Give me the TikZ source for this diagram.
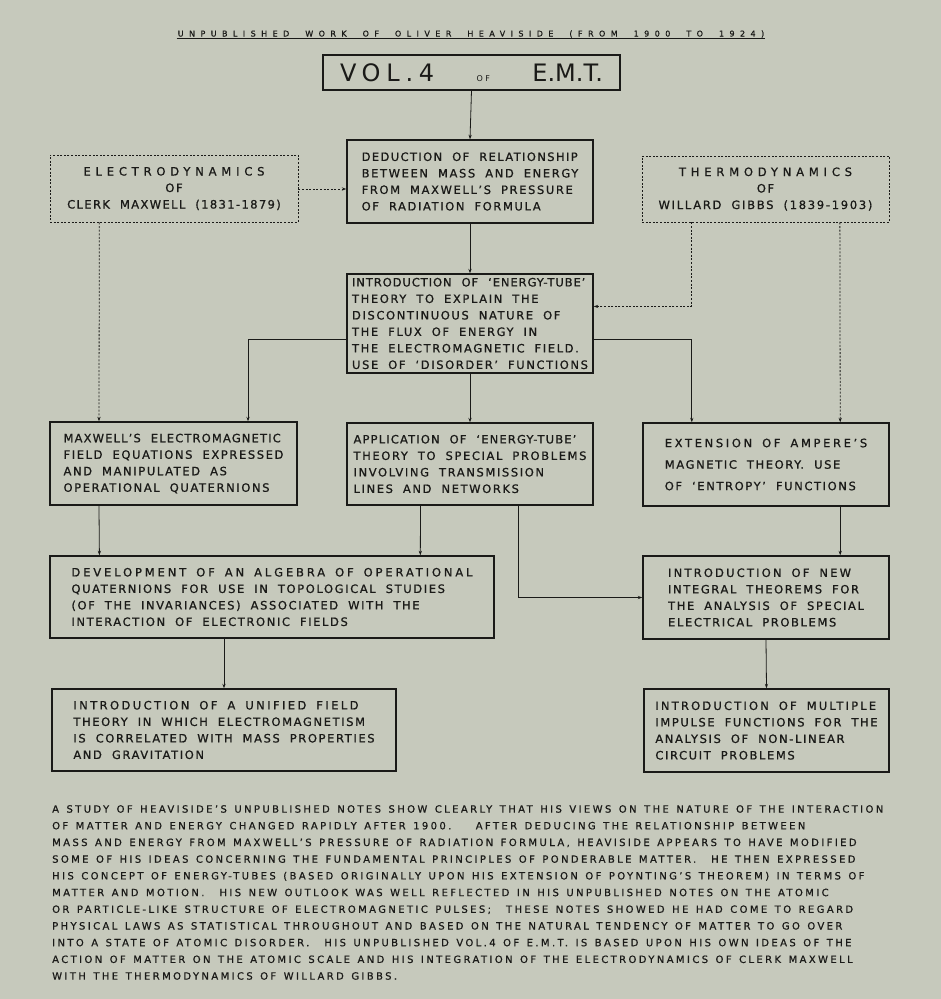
\documentclass[tikz,border=0pt]{standalone}
\usepackage{fontspec}
\usetikzlibrary{arrows.meta,calc}
\setmainfont{DejaVu Sans}
\newfontfamily\boxface[LetterSpace=14,FakeBold=0.9]{DejaVu Sans}
\newfontfamily\noteface[LetterSpace=24,FakeBold=0.7]{DejaVu Sans}
\newfontfamily\titleface[LetterSpace=68,FakeBold=0.8]{DejaVu Sans}
\newfontfamily\volface[LetterSpace=24]{DejaVu Sans}
\newcommand\spacing[1]{\addfontfeatures{LetterSpace=#1}}
\newcommand\wordgap[1]{\spaceskip=#1\relax}
\definecolor{paper}{RGB}{198,201,188}
\definecolor{ink}{RGB}{26,26,24}

\tikzset{
  box/.style={draw=ink, line width=1.4pt, text=ink, align=left, inner sep=0pt,
    font=\boxface\fontsize{11.5}{16.5}\selectfont\wordgap{10pt plus 2pt minus 1pt}},
  srcbox/.style={box, align=center, dash pattern=on 2pt off 1.6pt, line width=0.9pt},
  conn/.style={draw=ink, line width=0.8pt, -{Stealth[length=4.5pt,width=3.2pt]}},
  dashconn/.style={conn, dash pattern=on 2pt off 1.6pt},
}

\begin{document}
\begin{tikzpicture}[x=1pt,y=-1pt]
  \fill[paper] (0,0) rectangle (941,999);
  \useasboundingbox (0,0) rectangle (941,999);

  % title and volume
  \node[text=ink, font=\titleface\fontsize{8}{10}\selectfont\wordgap{16pt}, inner sep=1pt] (title) at (471,34)
    {UNPUBLISHED WORK OF OLIVER HEAVISIDE (FROM 1900 TO 1924)};
  \draw[ink, line width=0.7pt] (title.south west) -- (title.south east);
  \node[draw=ink, line width=1.4pt, text=ink, minimum width=297pt, minimum height=35pt, inner sep=0pt] (vol) at (471.5,72.5)
    {\makebox[263pt]{\fontsize{24}{26}\selectfont{\volface VOL.4}\hfill{\addfontfeatures{LetterSpace=30}\fontsize{8}{8}\selectfont OF}\hfill E.M.T.}};

  % sources
  \node[srcbox, minimum width=248pt, minimum height=67pt] (electro) at (174,188.5)
    {{\spacing{42}ELECTRODYNAMICS}\\OF\\{\spacing{12}CLERK MAXWELL (1831-1879)}};
  \node[srcbox, minimum width=247pt, minimum height=66pt] (thermo) at (765.5,189)
    {{\spacing{42}THERMODYNAMICS}\\OF\\{\spacing{15}WILLARD GIBBS (1839-1903)}};

  % main column
  \node[box, minimum width=246pt, minimum height=83pt] (deduct) at (470,181.5)
    {\spacing{12}DEDUCTION OF RELATIONSHIP\\BETWEEN MASS AND ENERGY\\FROM MAXWELL’S PRESSURE\\OF RADIATION FORMULA};
  \node[box, minimum width=246pt, minimum height=99pt] (tube) at (470,323.5)
    {\spacing{8}INTRODUCTION OF ‘ENERGY-TUBE’\\THEORY TO EXPLAIN THE\\DISCONTINUOUS NATURE OF\\THE FLUX OF ENERGY IN\\THE ELECTROMAGNETIC FIELD.\\USE OF ‘DISORDER’ FUNCTIONS};

  % third row
  \node[box, minimum width=247pt, minimum height=83pt] (maxw) at (173.5,463.5)
    {\spacing{10}MAXWELL’S ELECTROMAGNETIC\\FIELD EQUATIONS EXPRESSED\\AND MANIPULATED AS\\OPERATIONAL QUATERNIONS};
  \node[box, minimum width=246pt, minimum height=82pt] (app) at (470,464)
    {\spacing{10}APPLICATION OF ‘ENERGY-TUBE’\\THEORY TO SPECIAL PROBLEMS\\INVOLVING TRANSMISSION\\LINES AND NETWORKS};
  \node[box, minimum width=246pt, minimum height=83pt,
        font=\boxface\fontsize{11.5}{21.5}\selectfont\wordgap{10pt}] (ext) at (766,464.5)
    {\spacing{23}EXTENSION OF AMPERE’S\\MAGNETIC THEORY. USE\\OF ‘ENTROPY’ FUNCTIONS};

  % fourth row
  \node[box, minimum width=444pt, minimum height=82pt] (devel) at (272,597)
    {\spacing{25}DEVELOPMENT OF AN ALGEBRA OF OPERATIONAL\\QUATERNIONS FOR USE IN TOPOLOGICAL STUDIES\\(OF THE INVARIANCES) ASSOCIATED WITH THE\\INTERACTION OF ELECTRONIC FIELDS};
  \node[box, minimum width=246pt, minimum height=83pt] (integ) at (766,597.5)
    {\spacing{19}INTRODUCTION OF NEW\\INTEGRAL THEOREMS FOR\\THE ANALYSIS OF SPECIAL\\ELECTRICAL PROBLEMS};

  % last row
  \node[box, minimum width=344pt, minimum height=82pt] (unified) at (224,730)
    {\spacing{21}INTRODUCTION OF A UNIFIED FIELD\\THEORY IN WHICH ELECTROMAGNETISM\\IS CORRELATED WITH MASS PROPERTIES\\AND GRAVITATION};
  \node[box, minimum width=245pt, minimum height=83pt] (multi) at (766.5,730.5)
    {\spacing{19}INTRODUCTION OF MULTIPLE\\IMPULSE FUNCTIONS FOR THE\\ANALYSIS OF NON-LINEAR\\CIRCUIT PROBLEMS};

  % connectors
  \draw[conn] (vol.south) -- (deduct.north);
  \draw[dashconn] (electro.east |- 0,189) -- (deduct.west |- 0,189);
  \draw[conn] (deduct.south) -- (tube.north);
  \draw[dashconn] ($(thermo.south west)!0.2!(thermo.south east)$) |- ($(tube.north east)!0.33!(tube.south east)$);
  \draw[dashconn] ($(thermo.south west)!0.8!(thermo.south east)$) -- ($(ext.north west)!0.8!(ext.north east)$);
  \draw[dashconn] ($(electro.south west)!0.2!(electro.south east)$) -- ($(maxw.north west)!0.2!(maxw.north east)$);
  \draw[conn] ($(tube.north west)!0.66!(tube.south west)$) -| ($(maxw.north west)!0.8!(maxw.north east)$);
  \draw[conn] ($(tube.north east)!0.66!(tube.south east)$) -| ($(ext.north west)!0.2!(ext.north east)$);
  \draw[conn] (tube.south) -- (app.north);
  \draw[conn] ($(maxw.south west)!0.2!(maxw.south east)$) -- ($(devel.north west)!0.1125!(devel.north east)$);
  \draw[conn] ($(app.south west)!0.3!(app.south east)$) -- ($(devel.north west)!0.833!(devel.north east)$);
  \draw[conn] ($(app.south west)!0.695!(app.south east)$) |- (integ.west);
  \draw[conn] ($(ext.south west)!0.8!(ext.south east)$) -- ($(integ.north west)!0.8!(integ.north east)$);
  \draw[conn] (unified.north |- devel.south) -- (unified.north);
  \draw[conn] (integ.south) -- (multi.north);

  % notes
  \node[anchor=north west, align=left, text=ink, inner sep=0pt,
        font=\noteface\fontsize{10}{16.7}\selectfont\wordgap{7.5pt plus 1pt}] (notes) at (52,805)
    {A STUDY OF HEAVISIDE’S UNPUBLISHED NOTES SHOW CLEARLY THAT HIS VIEWS ON THE NATURE OF THE INTERACTION\\
     OF MATTER AND ENERGY CHANGED RAPIDLY AFTER 1900. \ \ AFTER DEDUCING THE RELATIONSHIP BETWEEN\\
     MASS AND ENERGY FROM MAXWELL’S PRESSURE OF RADIATION FORMULA, HEAVISIDE APPEARS TO HAVE MODIFIED\\
     SOME OF HIS IDEAS CONCERNING THE FUNDAMENTAL PRINCIPLES OF PONDERABLE MATTER. \ HE THEN EXPRESSED\\
     HIS CONCEPT OF ENERGY-TUBES (BASED ORIGINALLY UPON HIS EXTENSION OF POYNTING’S THEOREM) IN TERMS OF\\
     MATTER AND MOTION. \ HIS NEW OUTLOOK WAS WELL REFLECTED IN HIS UNPUBLISHED NOTES ON THE ATOMIC\\
     OR PARTICLE-LIKE STRUCTURE OF ELECTROMAGNETIC PULSES; \ THESE NOTES SHOWED HE HAD COME TO REGARD\\
     PHYSICAL LAWS AS STATISTICAL THROUGHOUT AND BASED ON THE NATURAL TENDENCY OF MATTER TO GO OVER\\
     INTO A STATE OF ATOMIC DISORDER. \ HIS UNPUBLISHED VOL.4 OF E.M.T. IS BASED UPON HIS OWN IDEAS OF THE\\
     ACTION OF MATTER ON THE ATOMIC SCALE AND HIS INTEGRATION OF THE ELECTRODYNAMICS OF CLERK MAXWELL\\
     WITH THE THERMODYNAMICS OF WILLARD GIBBS.};
\end{tikzpicture}
\end{document}
